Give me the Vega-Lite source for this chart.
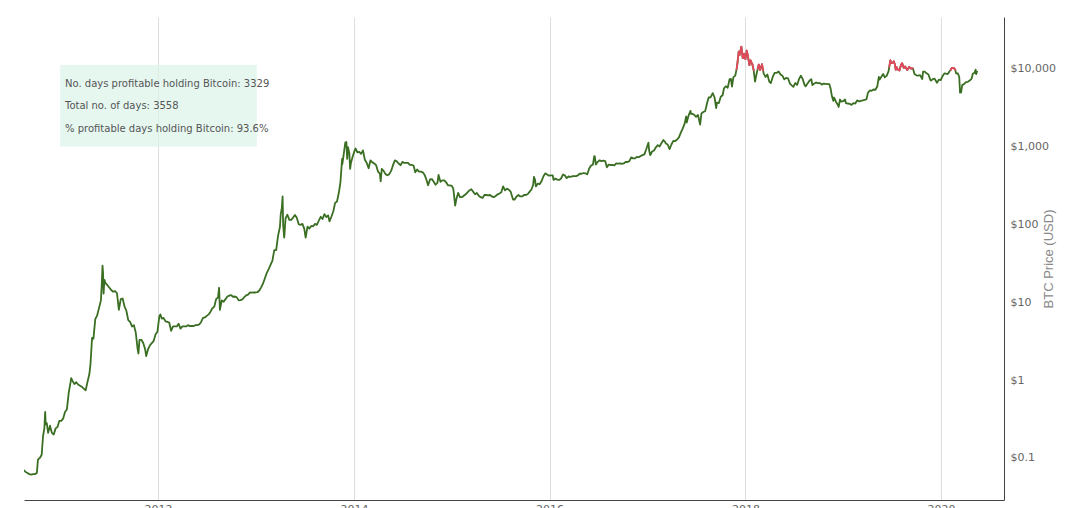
{
  "$schema": "https://vega.github.io/schema/vega-lite/v6.json",
  "autosize": {"type": "none"},
  "width": 980,
  "height": 483,
  "padding": {"left": 24, "top": 17, "right": 66, "bottom": 8},
  "background": "white",
  "config": {"view": {"stroke": null}},
  "datasets": {
    "btc": [
      {"d":"2010-08-18","p":0.07},{"d":"2010-08-25","p":0.066},{"d":"2010-09-01","p":0.064},{"d":"2010-09-08","p":0.062},{"d":"2010-09-15","p":0.061},{"d":"2010-09-22","p":0.062},{"d":"2010-09-29","p":0.062},{"d":"2010-10-06","p":0.064},{"d":"2010-10-10","p":0.095},{"d":"2010-10-17","p":0.10},{"d":"2010-10-24","p":0.11},{"d":"2010-10-29","p":0.19},{"d":"2010-11-03","p":0.24},{"d":"2010-11-06","p":0.39},{"d":"2010-11-08","p":0.27},{"d":"2010-11-12","p":0.28},{"d":"2010-11-17","p":0.21},{"d":"2010-11-24","p":0.26},{"d":"2010-12-01","p":0.21},{"d":"2010-12-08","p":0.20},{"d":"2010-12-15","p":0.24},{"d":"2010-12-22","p":0.25},{"d":"2010-12-29","p":0.30},
      {"d":"2011-01-05","p":0.30},{"d":"2011-01-12","p":0.32},{"d":"2011-01-19","p":0.39},{"d":"2011-01-26","p":0.42},{"d":"2011-02-02","p":0.69},{"d":"2011-02-09","p":0.95},{"d":"2011-02-11","p":1.06},{"d":"2011-02-16","p":0.98},{"d":"2011-02-23","p":0.89},{"d":"2011-03-02","p":0.94},{"d":"2011-03-09","p":0.88},{"d":"2011-03-16","p":0.85},{"d":"2011-03-23","p":0.82},{"d":"2011-03-30","p":0.78},{"d":"2011-04-06","p":0.74},{"d":"2011-04-13","p":0.95},{"d":"2011-04-20","p":1.2},{"d":"2011-04-24","p":1.6},{"d":"2011-04-30","p":3.5},{"d":"2011-05-05","p":3.4},{"d":"2011-05-12","p":6.1},{"d":"2011-05-19","p":6.8},{"d":"2011-05-26","p":8.5},{"d":"2011-06-02","p":10.6},{"d":"2011-06-05","p":16.5},{"d":"2011-06-08","p":29.6},{"d":"2011-06-10","p":23.9},{"d":"2011-06-12","p":13.0},{"d":"2011-06-15","p":19.5},{"d":"2011-06-20","p":17.5},{"d":"2011-06-27","p":16.5},{"d":"2011-07-04","p":15.4},{"d":"2011-07-11","p":14.3},{"d":"2011-07-18","p":13.7},{"d":"2011-07-25","p":13.9},{"d":"2011-08-01","p":13.1},{"d":"2011-08-08","p":8.0},{"d":"2011-08-15","p":11.0},{"d":"2011-08-22","p":11.2},{"d":"2011-08-29","p":8.9},{"d":"2011-09-05","p":7.8},{"d":"2011-09-12","p":5.9},{"d":"2011-09-19","p":5.6},{"d":"2011-09-26","p":4.9},{"d":"2011-10-03","p":5.1},{"d":"2011-10-10","p":4.1},{"d":"2011-10-17","p":2.5},{"d":"2011-10-20","p":2.2},{"d":"2011-10-24","p":3.3},{"d":"2011-10-31","p":3.3},{"d":"2011-11-07","p":3.0},{"d":"2011-11-14","p":2.5},{"d":"2011-11-18","p":2.04},{"d":"2011-11-25","p":2.5},{"d":"2011-12-02","p":2.8},{"d":"2011-12-09","p":3.0},{"d":"2011-12-16","p":3.2},{"d":"2011-12-23","p":3.9},{"d":"2011-12-30","p":4.2},
      {"d":"2012-01-06","p":6.6},{"d":"2012-01-10","p":7.0},{"d":"2012-01-15","p":6.2},{"d":"2012-01-22","p":6.3},{"d":"2012-01-29","p":5.7},{"d":"2012-02-05","p":5.6},{"d":"2012-02-12","p":5.5},{"d":"2012-02-19","p":4.3},{"d":"2012-02-26","p":4.9},{"d":"2012-03-04","p":4.9},{"d":"2012-03-11","p":4.9},{"d":"2012-03-18","p":5.3},{"d":"2012-03-25","p":4.6},{"d":"2012-04-01","p":4.9},{"d":"2012-04-08","p":4.9},{"d":"2012-04-15","p":4.9},{"d":"2012-04-22","p":5.1},{"d":"2012-04-29","p":4.95},{"d":"2012-05-06","p":5.0},{"d":"2012-05-13","p":4.97},{"d":"2012-05-20","p":5.1},{"d":"2012-05-27","p":5.1},{"d":"2012-06-03","p":5.2},{"d":"2012-06-10","p":5.6},{"d":"2012-06-17","p":6.3},{"d":"2012-06-24","p":6.4},{"d":"2012-07-01","p":6.7},{"d":"2012-07-08","p":7.0},{"d":"2012-07-15","p":7.6},{"d":"2012-07-22","p":8.4},{"d":"2012-07-29","p":8.8},{"d":"2012-08-05","p":11.0},{"d":"2012-08-12","p":11.6},{"d":"2012-08-16","p":15.4},{"d":"2012-08-19","p":8.0},{"d":"2012-08-26","p":10.6},{"d":"2012-09-02","p":10.2},{"d":"2012-09-09","p":11.0},{"d":"2012-09-16","p":11.9},{"d":"2012-09-23","p":12.2},{"d":"2012-09-30","p":12.4},{"d":"2012-10-07","p":11.8},{"d":"2012-10-14","p":11.9},{"d":"2012-10-21","p":11.6},{"d":"2012-10-28","p":10.6},{"d":"2012-11-04","p":10.7},{"d":"2012-11-11","p":10.9},{"d":"2012-11-18","p":11.7},{"d":"2012-11-25","p":12.3},{"d":"2012-12-02","p":12.6},{"d":"2012-12-09","p":13.4},{"d":"2012-12-16","p":13.3},{"d":"2012-12-23","p":13.4},{"d":"2012-12-30","p":13.4},
      {"d":"2013-01-06","p":13.5},{"d":"2013-01-13","p":14.2},{"d":"2013-01-20","p":15.6},{"d":"2013-01-27","p":17.5},{"d":"2013-02-03","p":20.4},{"d":"2013-02-10","p":24.0},{"d":"2013-02-17","p":26.8},{"d":"2013-02-24","p":30.3},{"d":"2013-03-03","p":34.5},{"d":"2013-03-10","p":46.9},{"d":"2013-03-17","p":47.0},{"d":"2013-03-24","p":71.5},{"d":"2013-03-31","p":93.0},{"d":"2013-04-03","p":135},{"d":"2013-04-07","p":162},{"d":"2013-04-10","p":230},{"d":"2013-04-12","p":100},{"d":"2013-04-16","p":68},{"d":"2013-04-21","p":120},{"d":"2013-04-28","p":134},{"d":"2013-05-05","p":115},{"d":"2013-05-12","p":115},{"d":"2013-05-19","p":123},{"d":"2013-05-26","p":133},{"d":"2013-06-02","p":122},{"d":"2013-06-09","p":101},{"d":"2013-06-16","p":99},{"d":"2013-06-23","p":102},{"d":"2013-06-30","p":88},{"d":"2013-07-05","p":68},{"d":"2013-07-12","p":94},{"d":"2013-07-19","p":89},{"d":"2013-07-26","p":96},{"d":"2013-08-02","p":95},{"d":"2013-08-09","p":102},{"d":"2013-08-16","p":99},{"d":"2013-08-23","p":112},{"d":"2013-08-30","p":126},{"d":"2013-09-06","p":118},{"d":"2013-09-13","p":136},{"d":"2013-09-20","p":125},{"d":"2013-09-27","p":131},{"d":"2013-10-02","p":110},{"d":"2013-10-09","p":126},{"d":"2013-10-16","p":147},{"d":"2013-10-23","p":190},{"d":"2013-10-30","p":198},{"d":"2013-11-06","p":258},{"d":"2013-11-12","p":355},{"d":"2013-11-18","p":700},{"d":"2013-11-19","p":600},{"d":"2013-11-24","p":800},{"d":"2013-11-30","p":1130},{"d":"2013-12-04","p":1150},{"d":"2013-12-07","p":700},{"d":"2013-12-10","p":990},{"d":"2013-12-15","p":830},{"d":"2013-12-18","p":520},{"d":"2013-12-21","p":620},{"d":"2013-12-27","p":740},
      {"d":"2014-01-03","p":880},{"d":"2014-01-07","p":950},{"d":"2014-01-14","p":850},{"d":"2014-01-21","p":860},{"d":"2014-01-28","p":810},{"d":"2014-02-04","p":900},{"d":"2014-02-11","p":680},{"d":"2014-02-18","p":620},{"d":"2014-02-25","p":530},{"d":"2014-03-04","p":670},{"d":"2014-03-11","p":630},{"d":"2014-03-18","p":610},{"d":"2014-03-25","p":580},{"d":"2014-04-01","p":480},{"d":"2014-04-08","p":450},{"d":"2014-04-11","p":360},{"d":"2014-04-15","p":520},{"d":"2014-04-22","p":490},{"d":"2014-04-29","p":445},{"d":"2014-05-06","p":430},{"d":"2014-05-13","p":445},{"d":"2014-05-20","p":490},{"d":"2014-05-27","p":580},{"d":"2014-06-03","p":670},{"d":"2014-06-10","p":650},{"d":"2014-06-17","p":610},{"d":"2014-06-24","p":580},{"d":"2014-07-01","p":640},{"d":"2014-07-08","p":620},{"d":"2014-07-15","p":620},{"d":"2014-07-22","p":620},{"d":"2014-07-29","p":585},{"d":"2014-08-05","p":585},{"d":"2014-08-12","p":570},{"d":"2014-08-18","p":470},{"d":"2014-08-25","p":510},{"d":"2014-09-01","p":480},{"d":"2014-09-08","p":480},{"d":"2014-09-15","p":470},{"d":"2014-09-22","p":435},{"d":"2014-09-29","p":375},{"d":"2014-10-05","p":320},{"d":"2014-10-12","p":380},{"d":"2014-10-19","p":385},{"d":"2014-10-26","p":355},{"d":"2014-11-02","p":325},{"d":"2014-11-09","p":345},{"d":"2014-11-13","p":435},{"d":"2014-11-20","p":355},{"d":"2014-11-27","p":370},{"d":"2014-12-04","p":370},{"d":"2014-12-11","p":350},{"d":"2014-12-18","p":320},{"d":"2014-12-25","p":320},
      {"d":"2015-01-01","p":315},{"d":"2015-01-07","p":290},{"d":"2015-01-14","p":175},{"d":"2015-01-18","p":210},{"d":"2015-01-25","p":255},{"d":"2015-02-01","p":225},{"d":"2015-02-08","p":225},{"d":"2015-02-15","p":235},{"d":"2015-02-22","p":245},{"d":"2015-03-01","p":260},{"d":"2015-03-08","p":275},{"d":"2015-03-15","p":285},{"d":"2015-03-22","p":265},{"d":"2015-03-29","p":245},{"d":"2015-04-05","p":255},{"d":"2015-04-12","p":235},{"d":"2015-04-19","p":225},{"d":"2015-04-26","p":220},{"d":"2015-05-03","p":240},{"d":"2015-05-10","p":240},{"d":"2015-05-17","p":237},{"d":"2015-05-24","p":240},{"d":"2015-05-31","p":230},{"d":"2015-06-07","p":225},{"d":"2015-06-14","p":233},{"d":"2015-06-21","p":245},{"d":"2015-06-28","p":250},{"d":"2015-07-05","p":260},{"d":"2015-07-12","p":310},{"d":"2015-07-19","p":275},{"d":"2015-07-26","p":290},{"d":"2015-08-02","p":281},{"d":"2015-08-09","p":265},{"d":"2015-08-18","p":210},{"d":"2015-08-24","p":210},{"d":"2015-08-31","p":230},{"d":"2015-09-07","p":240},{"d":"2015-09-14","p":230},{"d":"2015-09-21","p":230},{"d":"2015-09-28","p":240},{"d":"2015-10-05","p":240},{"d":"2015-10-12","p":247},{"d":"2015-10-19","p":265},{"d":"2015-10-26","p":285},{"d":"2015-11-01","p":325},{"d":"2015-11-04","p":410},{"d":"2015-11-08","p":375},{"d":"2015-11-11","p":310},{"d":"2015-11-18","p":335},{"d":"2015-11-25","p":330},{"d":"2015-12-02","p":360},{"d":"2015-12-09","p":415},{"d":"2015-12-16","p":455},{"d":"2015-12-23","p":440},{"d":"2015-12-30","p":425},
      {"d":"2016-01-06","p":430},{"d":"2016-01-13","p":430},{"d":"2016-01-16","p":375},{"d":"2016-01-23","p":390},{"d":"2016-01-30","p":378},{"d":"2016-02-06","p":375},{"d":"2016-02-13","p":390},{"d":"2016-02-20","p":440},{"d":"2016-02-27","p":430},{"d":"2016-03-05","p":395},{"d":"2016-03-12","p":415},{"d":"2016-03-19","p":410},{"d":"2016-03-26","p":418},{"d":"2016-04-02","p":420},{"d":"2016-04-09","p":420},{"d":"2016-04-16","p":430},{"d":"2016-04-23","p":450},{"d":"2016-04-30","p":450},{"d":"2016-05-07","p":460},{"d":"2016-05-14","p":455},{"d":"2016-05-21","p":443},{"d":"2016-05-28","p":525},{"d":"2016-06-04","p":575},{"d":"2016-06-11","p":590},{"d":"2016-06-16","p":760},{"d":"2016-06-18","p":750},{"d":"2016-06-22","p":590},{"d":"2016-06-29","p":640},{"d":"2016-07-06","p":670},{"d":"2016-07-13","p":655},{"d":"2016-07-20","p":665},{"d":"2016-07-27","p":655},{"d":"2016-08-02","p":545},{"d":"2016-08-09","p":590},{"d":"2016-08-16","p":580},{"d":"2016-08-23","p":585},{"d":"2016-08-30","p":575},{"d":"2016-09-06","p":610},{"d":"2016-09-13","p":608},{"d":"2016-09-20","p":610},{"d":"2016-09-27","p":605},{"d":"2016-10-04","p":610},{"d":"2016-10-11","p":640},{"d":"2016-10-18","p":637},{"d":"2016-10-25","p":655},{"d":"2016-11-01","p":730},{"d":"2016-11-08","p":710},{"d":"2016-11-15","p":710},{"d":"2016-11-22","p":740},{"d":"2016-11-29","p":735},{"d":"2016-12-06","p":760},{"d":"2016-12-13","p":780},{"d":"2016-12-20","p":800},{"d":"2016-12-27","p":930},
      {"d":"2017-01-04","p":1130},{"d":"2017-01-07","p":890},{"d":"2017-01-11","p":780},{"d":"2017-01-18","p":870},{"d":"2017-01-25","p":895},{"d":"2017-02-01","p":985},{"d":"2017-02-08","p":1050},{"d":"2017-02-15","p":1010},{"d":"2017-02-22","p":1120},{"d":"2017-03-01","p":1220},{"d":"2017-03-08","p":1150},{"d":"2017-03-10","p":1100},{"d":"2017-03-17","p":1070},{"d":"2017-03-24","p":935},{"d":"2017-03-31","p":1070},{"d":"2017-04-07","p":1190},{"d":"2017-04-14","p":1180},{"d":"2017-04-21","p":1240},{"d":"2017-04-28","p":1320},{"d":"2017-05-05","p":1520},{"d":"2017-05-12","p":1710},{"d":"2017-05-19","p":1970},{"d":"2017-05-25","p":2450},{"d":"2017-05-27","p":2050},{"d":"2017-06-03","p":2520},{"d":"2017-06-10","p":2900},{"d":"2017-06-12","p":2650},{"d":"2017-06-17","p":2650},{"d":"2017-06-24","p":2580},{"d":"2017-07-01","p":2430},{"d":"2017-07-08","p":2560},{"d":"2017-07-16","p":1930},{"d":"2017-07-21","p":2680},{"d":"2017-07-28","p":2800},{"d":"2017-08-04","p":2870},{"d":"2017-08-11","p":3650},{"d":"2017-08-17","p":4300},{"d":"2017-08-24","p":4320},{"d":"2017-09-01","p":4900},{"d":"2017-09-08","p":4300},{"d":"2017-09-14","p":3150},{"d":"2017-09-17","p":3690},{"d":"2017-09-24","p":3650},{"d":"2017-10-01","p":4400},{"d":"2017-10-08","p":4600},{"d":"2017-10-13","p":5650},{"d":"2017-10-20","p":6000},{"d":"2017-10-27","p":5750},{"d":"2017-11-03","p":7400},{"d":"2017-11-08","p":7450},{"d":"2017-11-12","p":5950},{"d":"2017-11-17","p":7800},{"d":"2017-11-24","p":8200},{"d":"2017-11-29","p":9900},{"d":"2017-12-01","p":10900},{"d":"2017-12-07","p":16700},{"d":"2017-12-10","p":15100},{"d":"2017-12-17","p":19300},{"d":"2017-12-22","p":13800},{"d":"2017-12-27","p":15700},
      {"d":"2018-01-01","p":13400},{"d":"2018-01-06","p":17200},{"d":"2018-01-10","p":14900},{"d":"2018-01-16","p":11200},{"d":"2018-01-20","p":12900},{"d":"2018-01-27","p":11500},{"d":"2018-02-01","p":9600},{"d":"2018-02-06","p":6900},{"d":"2018-02-10","p":8100},{"d":"2018-02-16","p":10100},{"d":"2018-02-20","p":11400},{"d":"2018-02-25","p":9700},{"d":"2018-03-04","p":11500},{"d":"2018-03-08","p":9600},{"d":"2018-03-10","p":8800},{"d":"2018-03-17","p":7900},{"d":"2018-03-24","p":8500},{"d":"2018-03-31","p":6900},{"d":"2018-04-06","p":6600},{"d":"2018-04-13","p":7900},{"d":"2018-04-20","p":8900},{"d":"2018-04-27","p":8900},{"d":"2018-05-05","p":9300},{"d":"2018-05-12","p":8500},{"d":"2018-05-19","p":8200},{"d":"2018-05-26","p":7350},{"d":"2018-06-02","p":7700},{"d":"2018-06-09","p":7600},{"d":"2018-06-16","p":6500},{"d":"2018-06-23","p":6150},{"d":"2018-06-29","p":5900},{"d":"2018-07-06","p":6600},{"d":"2018-07-13","p":6250},{"d":"2018-07-20","p":7400},{"d":"2018-07-27","p":8200},{"d":"2018-08-03","p":7400},{"d":"2018-08-10","p":6200},{"d":"2018-08-14","p":6000},{"d":"2018-08-21","p":6500},{"d":"2018-08-28","p":7050},{"d":"2018-09-04","p":7400},{"d":"2018-09-08","p":6200},{"d":"2018-09-15","p":6500},{"d":"2018-09-22","p":6700},{"d":"2018-09-29","p":6600},{"d":"2018-10-06","p":6600},{"d":"2018-10-13","p":6300},{"d":"2018-10-20","p":6500},{"d":"2018-10-27","p":6450},{"d":"2018-11-03","p":6400},{"d":"2018-11-10","p":6400},{"d":"2018-11-15","p":5600},{"d":"2018-11-20","p":4450},{"d":"2018-11-25","p":3900},{"d":"2018-11-28","p":4300},{"d":"2018-12-05","p":3800},{"d":"2018-12-12","p":3450},{"d":"2018-12-15","p":3250},{"d":"2018-12-20","p":4050},{"d":"2018-12-25","p":3800},
      {"d":"2019-01-01","p":3850},{"d":"2019-01-08","p":4050},{"d":"2019-01-11","p":3650},{"d":"2019-01-18","p":3600},{"d":"2019-01-25","p":3570},{"d":"2019-02-01","p":3450},{"d":"2019-02-08","p":3650},{"d":"2019-02-15","p":3600},{"d":"2019-02-22","p":3950},{"d":"2019-03-01","p":3830},{"d":"2019-03-08","p":3900},{"d":"2019-03-15","p":3950},{"d":"2019-03-22","p":4000},{"d":"2019-03-29","p":4100},{"d":"2019-04-03","p":4900},{"d":"2019-04-10","p":5300},{"d":"2019-04-17","p":5250},{"d":"2019-04-24","p":5450},{"d":"2019-05-01","p":5400},{"d":"2019-05-08","p":5950},{"d":"2019-05-14","p":7900},{"d":"2019-05-17","p":7300},{"d":"2019-05-24","p":8000},{"d":"2019-05-30","p":8650},{"d":"2019-06-05","p":7800},{"d":"2019-06-12","p":8150},{"d":"2019-06-19","p":9300},{"d":"2019-06-22","p":10700},{"d":"2019-06-26","p":12900},{"d":"2019-06-28","p":12100},{"d":"2019-07-03","p":11900},{"d":"2019-07-09","p":12500},{"d":"2019-07-13","p":11400},{"d":"2019-07-16","p":9800},{"d":"2019-07-19","p":10600},{"d":"2019-07-23","p":9900},{"d":"2019-07-30","p":9600},{"d":"2019-08-03","p":10800},{"d":"2019-08-06","p":11500},{"d":"2019-08-09","p":11850},{"d":"2019-08-15","p":10300},{"d":"2019-08-20","p":10750},{"d":"2019-08-28","p":9700},{"d":"2019-09-04","p":10600},{"d":"2019-09-11","p":10150},{"d":"2019-09-18","p":10200},{"d":"2019-09-24","p":8600},{"d":"2019-10-01","p":8300},{"d":"2019-10-08","p":8200},{"d":"2019-10-15","p":8350},{"d":"2019-10-23","p":7450},{"d":"2019-10-26","p":9250},{"d":"2019-11-01","p":9250},{"d":"2019-11-08","p":8800},{"d":"2019-11-15","p":8500},{"d":"2019-11-22","p":7250},{"d":"2019-11-25","p":7100},{"d":"2019-12-01","p":7400},{"d":"2019-12-08","p":7500},{"d":"2019-12-17","p":6650},{"d":"2019-12-24","p":7300},{"d":"2019-12-31","p":7200},
      {"d":"2020-01-07","p":8150},{"d":"2020-01-14","p":8800},{"d":"2020-01-19","p":8700},{"d":"2020-01-26","p":8600},{"d":"2020-02-02","p":9350},{"d":"2020-02-06","p":9700},{"d":"2020-02-09","p":10150},{"d":"2020-02-13","p":10350},{"d":"2020-02-19","p":10200},{"d":"2020-02-23","p":9800},{"d":"2020-02-26","p":8800},{"d":"2020-03-04","p":8750},{"d":"2020-03-09","p":7900},{"d":"2020-03-12","p":4970},{"d":"2020-03-16","p":5000},{"d":"2020-03-20","p":6200},{"d":"2020-03-27","p":6400},{"d":"2020-04-03","p":6800},{"d":"2020-04-10","p":6850},{"d":"2020-04-17","p":7100},{"d":"2020-04-24","p":7500},{"d":"2020-04-29","p":8750},{"d":"2020-05-05","p":8900},{"d":"2020-05-09","p":9800},{"d":"2020-05-11","p":8600},{"d":"2020-05-15","p":9450}
    ],
    "notes": [
      {"t": "No. days profitable holding Bitcoin: 3329", "k": 1},
      {"t": "Total no. of days: 3558", "k": 2},
      {"t": "% profitable days holding Bitcoin: 93.6%", "k": 3}
    ]
  },
  "layer": [
    {
      "data": {"name": "btc"},
      "mark": {"type": "line", "color": "#3a6e22", "strokeWidth": 1.8, "opacity": 0, "clip": true},
      "encoding": {
        "x": {
          "field": "d", "type": "temporal",
          "scale": {"domain": [{"year": 2010, "month": 8, "date": 19}, {"year": 2020, "month": 8, "date": 23}], "nice": false},
          "axis": {
            "title": null, "format": "%Y",
            "values": [{"year": 2012}, {"year": 2014}, {"year": 2016}, {"year": 2018}, {"year": 2020}],
            "grid": true, "gridColor": "#dedede", "gridWidth": 1,
            "ticks": false, "domainColor": "#444", "domainWidth": 1,
            "labelColor": "#666", "labelFont": "DejaVu Sans", "labelFontSize": 11, "labelPadding": 3
          }
        },
        "y": {
          "field": "p", "type": "quantitative",
          "scale": {"type": "log", "domain": [0.0288, 46600], "nice": false},
          "axis": {
            "orient": "right", "title": "BTC Price (USD)",
            "values": [0.1, 1, 10, 100, 1000, 10000],
            "labelExpr": "'$' + (datum.value < 1 ? format(datum.value, '.1f') : format(datum.value, ','))",
            "grid": false, "ticks": false, "domainColor": "#444", "domainWidth": 1,
            "labelColor": "#666", "labelFont": "DejaVu Sans", "labelFontSize": 11, "labelPadding": 6,
            "titleFont": "Liberation Sans", "titleFontSize": 13, "titleFontWeight": "normal", "titleColor": "#888",
            "titleAngle": 270, "titlePadding": 0
          }
        }
      }
    },
    {
      "data": {"name": "notes"},
      "transform": [{"filter": "datum.k == 1"}],
      "mark": {"type": "rect", "fill": "#dcf4ea", "opacity": 0.7},
      "encoding": {
        "x": {"datum": 1293840000000, "type": "temporal"},
        "x2": {"datum": 1357257600000},
        "y": {"datum": 1000, "type": "quantitative"},
        "y2": {"datum": 11260}
      }
    },
    {
      "data": {"name": "btc"},
      "mark": {"type": "line", "color": "#3a6e22", "strokeWidth": 1.8, "strokeJoin": "round", "clip": true},
      "encoding": {
        "x": {"field": "d", "type": "temporal"},
        "y": {"field": "p", "type": "quantitative"}
      }
    },
    {
      "data": {"name": "btc"},
      "transform": [
        {"window": [{"op": "lead", "field": "d", "as": "d2"}, {"op": "lead", "field": "p", "as": "p2"}], "sort": [{"field": "d"}]},
        {"filter": "datum.d2 != null && datum.p > 9400 && datum.p2 > 9400"}
      ],
      "mark": {"type": "rule", "color": "#e34a5e", "strokeWidth": 1.8, "strokeCap": "round"},
      "encoding": {
        "x": {"field": "d", "type": "temporal"},
        "x2": {"field": "d2"},
        "y": {"field": "p", "type": "quantitative"},
        "y2": {"field": "p2"}
      }
    },
    {
      "data": {"name": "notes"},
      "transform": [{"filter": "datum.k == 1"}],
      "mark": {"type": "text", "align": "left", "baseline": "middle", "font": "DejaVu Sans", "fontSize": 10, "color": "#555"},
      "encoding": {
        "text": {"field": "t"},
        "x": {"datum": 1295395200000, "type": "temporal"},
        "y": {"datum": 6416, "type": "quantitative"}
      }
    },
    {
      "data": {"name": "notes"},
      "transform": [{"filter": "datum.k == 2"}],
      "mark": {"type": "text", "align": "left", "baseline": "middle", "font": "DejaVu Sans", "fontSize": 10, "color": "#555"},
      "encoding": {
        "text": {"field": "t"},
        "x": {"datum": 1295395200000, "type": "temporal"},
        "y": {"datum": 3347, "type": "quantitative"}
      }
    },
    {
      "data": {"name": "notes"},
      "transform": [{"filter": "datum.k == 3"}],
      "mark": {"type": "text", "align": "left", "baseline": "middle", "font": "DejaVu Sans", "fontSize": 10, "color": "#555"},
      "encoding": {
        "text": {"field": "t"},
        "x": {"datum": 1295395200000, "type": "temporal"},
        "y": {"datum": 1692, "type": "quantitative"}
      }
    }
  ]
}
